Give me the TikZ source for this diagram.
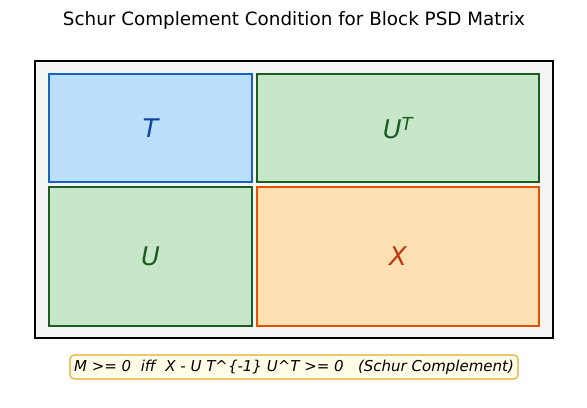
\documentclass[tikz,border=0pt]{standalone}
\usepackage{fontspec}
\setmainfont{DejaVu Sans}
\usepackage{tikz}
\usetikzlibrary{positioning}
\definecolor{tfill}{HTML}{BBDEFB}
\definecolor{tdraw}{HTML}{1565C0}
\definecolor{ttext}{HTML}{0D47A1}
\definecolor{ufill}{HTML}{C8E6C9}
\definecolor{udraw}{HTML}{1B5E20}
\definecolor{xfill}{HTML}{FFE0B2}
\definecolor{xdraw}{HTML}{E65100}
\definecolor{xtext}{HTML}{BF360C}
\definecolor{notefill}{HTML}{FFFDE7}
\definecolor{notedraw}{HTML}{E6A72A}
\tikzset{
	x=0.72pt, y=-0.72pt,
	block/.style={draw, line width=1.1pt, inner sep=0pt, font=\fontsize{18.5}{20}\selectfont\itshape},
	tblock/.style={block, fill=tfill, draw=tdraw, text=ttext},
	ublock/.style={block, fill=ufill, draw=udraw, text=udraw},
	xblock/.style={block, fill=xfill, draw=xdraw, text=xtext},
	frame/.style={draw=black, line width=1.5pt, fill=black!4, inner sep=0pt},
	note/.style={draw=notedraw, fill=notefill, line width=0.8pt, rounded corners=3pt, inner sep=0pt, font=\fontsize{10.8}{12}\selectfont\itshape},
}
\begin{document}
\begin{tikzpicture}
      \useasboundingbox (0,0) rectangle (587,407);
      \node (title) at (294,20) {\fontsize{13.2}{15}\selectfont Schur Complement Condition for Block PSD Matrix};
      
      \node[frame, minimum width=518*0.72pt, minimum height=277*0.72pt] (M) at (294,199.5) {};
      \node[tblock, minimum width=203*0.72pt, minimum height=108*0.72pt] (T)  at (150.5,128) {T};
      \node[ublock, minimum width=282*0.72pt, minimum height=108*0.72pt] (UT) at (398,128) {U\textsuperscript{T}};
      \node[ublock, minimum width=203*0.72pt, minimum height=139*0.72pt] (U)  at (150.5,256.5) {U};
      \node[xblock, minimum width=282*0.72pt, minimum height=139*0.72pt] (X)  at (398,256.5) {X};
      
      \node[note, minimum width=448*0.72pt, minimum height=24*0.72pt] (cond) at (294,367) {M >= 0\ \ iff\ \ X - U T\^{}\{-1\} U\^{}T >= 0\ \ \ (Schur Complement)};
    \end{tikzpicture}
\end{document}
